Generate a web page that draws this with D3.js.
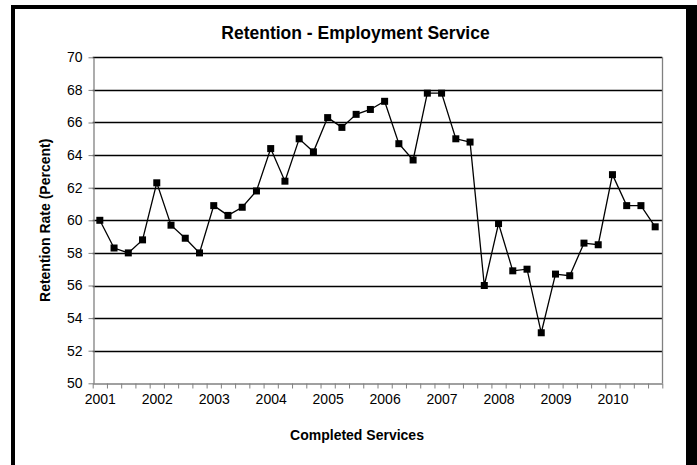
<!doctype html>
<html>
  <head>
    <script src="https://cdnjs.cloudflare.com/ajax/libs/d3/7.8.5/d3.min.js"></script>
    <style>
      body { margin: 0; background: #fff; }
      text { font-family: "Liberation Sans", Arial, sans-serif; }
    </style>
  </head>
  <body>
    <svg id="chart" width="697" height="465"></svg>
    <script>
      // quarterly retention rate, 2001 Q1 .. 2010 Q4
      var yearLabels = ["2001", "2002", "2003", "2004", "2005", "2006", "2007", "2008", "2009", "2010"];
      var retention = [
        60.0, 58.3, 58.0, 58.8,
        62.3, 59.7, 58.9, 58.0,
        60.9, 60.3, 60.8, 61.8,
        64.4, 62.4, 65.0, 64.2,
        66.3, 65.7, 66.5, 66.8,
        67.3, 64.7, 63.7, 67.8,
        67.8, 65.0, 64.8, 56.0,
        59.8, 56.9, 57.0, 53.1,
        56.7, 56.6, 58.6, 58.5,
        62.8, 60.9, 60.9, 59.6
      ];
      var yTicks = [50, 52, 54, 56, 58, 60, 62, 64, 66, 68, 70];

      var svg = d3.select("#chart");

      // outer frame (cropped at the bottom)
      svg.append("rect").attr("x", 11).attr("y", 5).attr("width", 4).attr("height", 460).attr("fill", "#000");
      svg.append("rect").attr("x", 11).attr("y", 5).attr("width", 686).attr("height", 4).attr("fill", "#000");
      svg.append("rect").attr("x", 686).attr("y", 5).attr("width", 11).attr("height", 460).attr("fill", "#000");

      var plotLeft = 92.7, plotRight = 662.3, plotTop = 57.3, plotBottom = 383.3;

      var x = d3.scaleLinear().domain([0, retention.length]).range([plotLeft, plotRight]);
      var y = d3.scaleLinear().domain([50, 70]).range([plotBottom, plotTop]);

      // gridlines
      svg.append("g")
        .selectAll("line")
        .data(yTicks.filter(d => d > 50))
        .enter()
        .append("line")
        .attr("x1", plotLeft)
        .attr("x2", plotRight)
        .attr("y1", d => Math.round(y(d)) + 0.5)
        .attr("y2", d => Math.round(y(d)) + 0.5)
        .attr("stroke", "#000")
        .attr("stroke-width", 1.3);

      // plot right border
      svg.append("line")
        .attr("x1", Math.round(plotRight) + 0.5).attr("x2", Math.round(plotRight) + 0.5)
        .attr("y1", plotTop).attr("y2", plotBottom)
        .attr("stroke", "#808080").attr("stroke-width", 1.3);

      // y axis
      var yAxis = d3.axisLeft(y)
        .tickValues(yTicks)
        .tickSize(5)
        .tickSizeOuter(0)
        .tickPadding(6)
        .tickFormat(d3.format("d"));

      var gy = svg.append("g")
        .attr("transform", "translate(" + (Math.round(plotLeft) + 0.5) + ",0)")
        .call(yAxis);
      gy.select(".domain").attr("stroke", "#808080").attr("stroke-width", 1.3);
      gy.selectAll(".tick line").attr("stroke", "#808080");
      gy.selectAll(".tick text")
        .attr("fill", "#000")
        .style("font-size", "14px")
        .style("font-family", "Liberation Sans, Arial, sans-serif");

      // x axis: tick marks between quarters
      var xAxis = d3.axisBottom(x)
        .tickValues(d3.range(0, retention.length + 1))
        .tickSize(5)
        .tickSizeOuter(0)
        .tickFormat("");

      var gx = svg.append("g")
        .attr("transform", "translate(0," + (Math.round(plotBottom) + 0.5) + ")")
        .call(xAxis);
      gx.select(".domain").attr("stroke", "#808080").attr("stroke-width", 1.3);
      gx.selectAll(".tick line").attr("stroke", "#808080");

      // year labels under the first quarter of each year
      var xLabels = d3.axisBottom(x)
        .tickValues(yearLabels.map((d, i) => i * 4 + 0.5))
        .tickSize(0)
        .tickPadding(11)
        .tickFormat((d, i) => yearLabels[i]);

      var gl = svg.append("g")
        .attr("transform", "translate(0," + plotBottom + ")")
        .call(xLabels);
      gl.select(".domain").remove();
      gl.selectAll(".tick text")
        .attr("fill", "#000")
        .style("font-size", "14px")
        .style("font-family", "Liberation Sans, Arial, sans-serif");

      // series line
      var line = d3.line()
        .x((d, i) => x(i + 0.5))
        .y(d => y(d));

      svg.append("path")
        .datum(retention)
        .attr("d", line)
        .attr("fill", "none")
        .attr("stroke", "#000")
        .attr("stroke-width", 1.3);

      svg.append("g")
        .selectAll("rect")
        .data(retention)
        .enter()
        .append("rect")
        .attr("x", (d, i) => x(i + 0.5) - 3.5)
        .attr("y", d => y(d) - 3.5)
        .attr("width", 7)
        .attr("height", 7)
        .attr("fill", "#000");

      // titles
      svg.append("text")
        .attr("x", 355.5)
        .attr("y", 39)
        .attr("text-anchor", "middle")
        .style("font-size", "17.5px")
        .style("font-weight", "bold")
        .text("Retention - Employment Service");

      svg.append("text")
        .attr("x", 357)
        .attr("y", 440)
        .attr("text-anchor", "middle")
        .style("font-size", "14px")
        .style("font-weight", "bold")
        .text("Completed Services");

      svg.append("text")
        .attr("transform", "translate(50," + ((plotTop + plotBottom) / 2) + ") rotate(-90)")
        .attr("text-anchor", "middle")
        .style("font-size", "14px")
        .style("font-weight", "bold")
        .text("Retention Rate (Percent)");
    </script>
  </body>
</html>
